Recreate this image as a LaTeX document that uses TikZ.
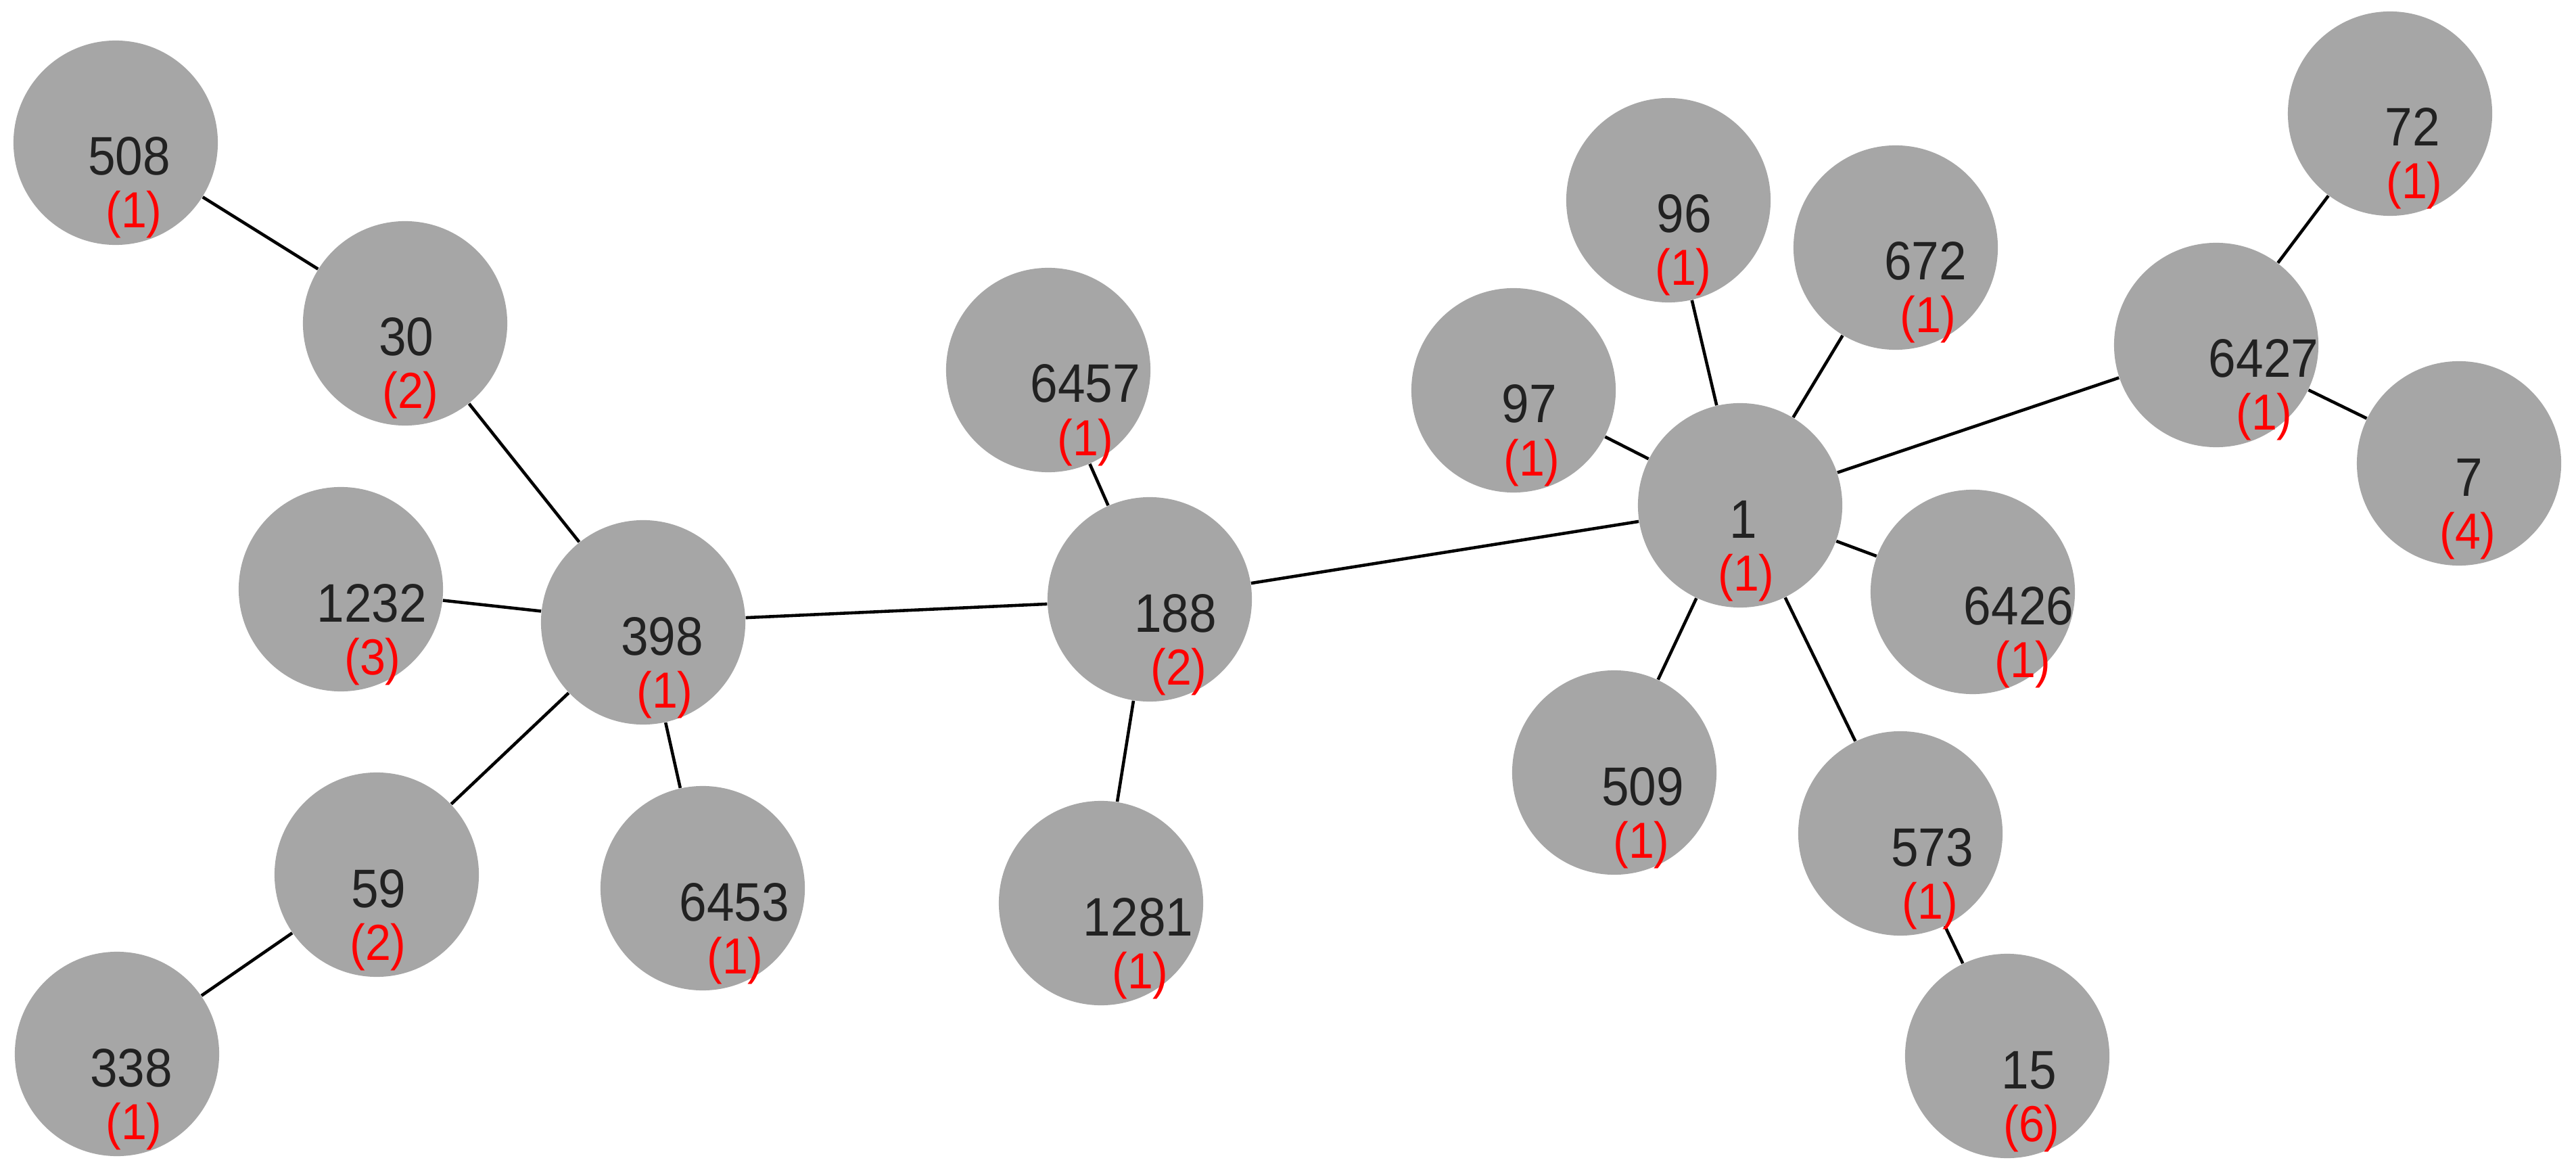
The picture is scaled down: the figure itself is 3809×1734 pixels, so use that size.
\documentclass[tikz,border=0pt]{standalone}
\usepackage{fontspec}
\newfontfamily\lblfont[FakeStretch=0.91]{Liberation Sans}
\usepackage{tikz}
\definecolor{clonegray}{RGB}{166,166,166}
\definecolor{idgray}{RGB}{34,34,34}

\begin{document}
\begin{tikzpicture}[x=0.01cm, y=-0.01cm,
	clone/.style={circle, fill=clonegray, minimum size=3.02cm, inner sep=0pt},
	idtxt/.style={anchor=base, inner sep=0pt, text=idgray, font=\lblfont\fontsize{22.8pt}{24pt}\selectfont},
	cnttxt/.style={anchor=base, inner sep=0pt, text=red, font=\lblfont\fontsize{21.3pt}{23pt}\selectfont},
	link/.style={line width=1.3pt, black}]
	\useasboundingbox (0,0) rectangle (3809,1734);
	% clones
	\node[clone] (n508) at (171,211) {};
	\node[clone] (n30) at (599,478) {};
	\node[clone] (n1232) at (504,871) {};
	\node[clone] (n398) at (951,920) {};
	\node[clone] (n59) at (557,1293) {};
	\node[clone] (n338) at (173,1558) {};
	\node[clone] (n6453) at (1039,1313) {};
	\node[clone] (n6457) at (1550,547) {};
	\node[clone] (n188) at (1700,886) {};
	\node[clone] (n1281) at (1628,1335) {};
	\node[clone] (n97) at (2238,577) {};
	\node[clone] (n96) at (2467,296) {};
	\node[clone] (n672) at (2803,366) {};
	\node[clone] (n1) at (2573,747) {};
	\node[clone] (n6426) at (2917,875) {};
	\node[clone] (n509) at (2387,1142) {};
	\node[clone] (n573) at (2810,1232) {};
	\node[clone] (n15) at (2968,1561) {};
	\node[clone] (n6427) at (3277,510) {};
	\node[clone] (n72) at (3534,168) {};
	\node[clone] (n7) at (3636,685) {};
	% links
	\draw[link] (n508) -- (n30);
	\draw[link] (n30) -- (n398);
	\draw[link] (n1232) -- (n398);
	\draw[link] (n398) -- (n59);
	\draw[link] (n59) -- (n338);
	\draw[link] (n398) -- (n6453);
	\draw[link] (n398) -- (n188);
	\draw[link] (n188) -- (n6457);
	\draw[link] (n188) -- (n1281);
	\draw[link] (n188) -- (n1);
	\draw[link] (n1) -- (n97);
	\draw[link] (n1) -- (n96);
	\draw[link] (n1) -- (n672);
	\draw[link] (n1) -- (n6426);
	\draw[link] (n1) -- (n509);
	\draw[link] (n1) -- (n573);
	\draw[link] (n573) -- (n15);
	\draw[link] (n1) -- (n6427);
	\draw[link] (n6427) -- (n72);
	\draw[link] (n6427) -- (n7);
	% ids and counts
	\node[idtxt] (t508) at ([shift={(20,48)}]n508.center) {508};
	\node[cnttxt] (k508) at ([shift={(27,126)}]n508.center) {(1)};
	\node[idtxt] (t30) at ([shift={(2,48)}]n30.center) {30};
	\node[cnttxt] (k30) at ([shift={(8,126)}]n30.center) {(2)};
	\node[idtxt] (t1232) at ([shift={(46,48)}]n1232.center) {1232};
	\node[cnttxt] (k1232) at ([shift={(47,126)}]n1232.center) {(3)};
	\node[idtxt] (t398) at ([shift={(28,48)}]n398.center) {398};
	\node[cnttxt] (k398) at ([shift={(32,126)}]n398.center) {(1)};
	\node[idtxt] (t59) at ([shift={(3,48)}]n59.center) {59};
	\node[cnttxt] (k59) at ([shift={(2,126)}]n59.center) {(2)};
	\node[idtxt] (t338) at ([shift={(21,48)}]n338.center) {338};
	\node[cnttxt] (k338) at ([shift={(25,126)}]n338.center) {(1)};
	\node[idtxt] (t6453) at ([shift={(47,48)}]n6453.center) {6453};
	\node[cnttxt] (k6453) at ([shift={(48,126)}]n6453.center) {(1)};
	\node[idtxt] (t6457) at ([shift={(55,48)}]n6457.center) {6457};
	\node[cnttxt] (k6457) at ([shift={(55,126)}]n6457.center) {(1)};
	\node[idtxt] (t188) at ([shift={(38,48)}]n188.center) {188};
	\node[cnttxt] (k188) at ([shift={(43,126)}]n188.center) {(2)};
	\node[idtxt] (t1281) at ([shift={(55,48)}]n1281.center) {1281};
	\node[cnttxt] (k1281) at ([shift={(58,126)}]n1281.center) {(1)};
	\node[idtxt] (t97) at ([shift={(23,48)}]n97.center) {97};
	\node[cnttxt] (k97) at ([shift={(27,126)}]n97.center) {(1)};
	\node[idtxt] (t96) at ([shift={(23,48)}]n96.center) {96};
	\node[cnttxt] (k96) at ([shift={(22,126)}]n96.center) {(1)};
	\node[idtxt] (t672) at ([shift={(44,48)}]n672.center) {672};
	\node[cnttxt] (k672) at ([shift={(48,126)}]n672.center) {(1)};
	\node[idtxt] (t1) at ([shift={(5,48)}]n1.center) {1};
	\node[cnttxt] (k1) at ([shift={(9,126)}]n1.center) {(1)};
	\node[idtxt] (t6426) at ([shift={(68,48)}]n6426.center) {6426};
	\node[cnttxt] (k6426) at ([shift={(74,126)}]n6426.center) {(1)};
	\node[idtxt] (t509) at ([shift={(42,48)}]n509.center) {509};
	\node[cnttxt] (k509) at ([shift={(40,126)}]n509.center) {(1)};
	\node[idtxt] (t573) at ([shift={(47,48)}]n573.center) {573};
	\node[cnttxt] (k573) at ([shift={(44,126)}]n573.center) {(1)};
	\node[idtxt] (t15) at ([shift={(32,48)}]n15.center) {15};
	\node[cnttxt] (k15) at ([shift={(36,126)}]n15.center) {(6)};
	\node[idtxt] (t6427) at ([shift={(70,48)}]n6427.center) {6427};
	\node[cnttxt] (k6427) at ([shift={(71,126)}]n6427.center) {(1)};
	\node[idtxt] (t72) at ([shift={(33,48)}]n72.center) {72};
	\node[cnttxt] (k72) at ([shift={(36,126)}]n72.center) {(1)};
	\node[idtxt] (t7) at ([shift={(15,48)}]n7.center) {7};
	\node[cnttxt] (k7) at ([shift={(13,126)}]n7.center) {(4)};
\end{tikzpicture}
\end{document}
